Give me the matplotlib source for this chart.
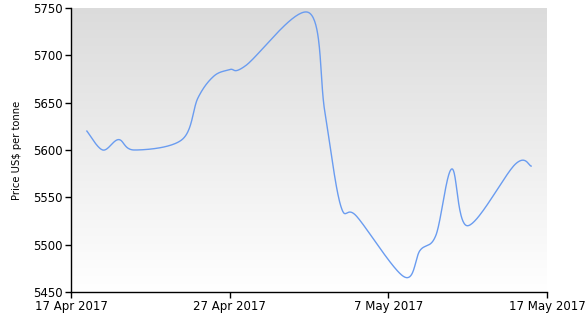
import numpy as np
import matplotlib
matplotlib.use("Agg")
import matplotlib.pyplot as plt
import matplotlib.dates as mdates
import datetime as dt

# daily prices (US$ per tonne)
dates = ["2017-04-18", "2017-04-19", "2017-04-20", "2017-04-21",
         "2017-04-24", "2017-04-25", "2017-04-26", "2017-04-27", "2017-04-28",
         "2017-05-02", "2017-05-03", "2017-05-04", "2017-05-05",
         "2017-05-08", "2017-05-09", "2017-05-10", "2017-05-11", "2017-05-12",
         "2017-05-15", "2017-05-16"]
prices = [5620, 5600, 5611, 5600,
          5611, 5655, 5678, 5685, 5689,
          5745, 5640, 5541, 5530,
          5466, 5494, 5510, 5580, 5520,
          5585, 5583]

yticks = [5450, 5500, 5550, 5600, 5650, 5700, 5750]
xticks = ["2017-04-17", "2017-04-27", "2017-05-07", "2017-05-17"]
xticklabels = ["17 Apr 2017", "27 Apr 2017", "7 May 2017", "17 May 2017"]

x = mdates.date2num([dt.datetime.strptime(d, "%Y-%m-%d") for d in dates])
y = np.array(prices, dtype=float)


def smooth(x, y, n=40):
    # uniform catmull-rom spline in both x and y (point index as parameter)
    px = np.concatenate([[x[0]], x, [x[-1]]])
    py = np.concatenate([[y[0]], y, [y[-1]]])
    mx = (px[2:] - px[:-2]) / 2
    my = (py[2:] - py[:-2]) / 2
    t = np.linspace(0, 1, n, endpoint=False)
    h00 = 2 * t**3 - 3 * t**2 + 1
    h10 = t**3 - 2 * t**2 + t
    h01 = -2 * t**3 + 3 * t**2
    h11 = t**3 - t**2
    xs, ys = [], []
    for i in range(len(x) - 1):
        xs.append(h00 * x[i] + h10 * mx[i] + h01 * x[i + 1] + h11 * mx[i + 1])
        ys.append(h00 * y[i] + h10 * my[i] + h01 * y[i + 1] + h11 * my[i + 1])
    xs.append([x[-1]])
    ys.append([y[-1]])
    return np.concatenate(xs), np.concatenate(ys)


fig = plt.figure(figsize=(5.88, 3.2), dpi=100)
ax = fig.add_axes([71 / 588, 1 - 292 / 320, 476 / 588, 284 / 320])

# grey-to-white background gradient
grad = np.linspace(0.86, 1.0, 256).reshape(256, 1, 1) * np.ones((1, 2, 3))
ax.imshow(grad, extent=[0, 1, 0, 1], transform=ax.transAxes, aspect="auto",
          interpolation="bicubic", zorder=0)

xs, ys = smooth(x, y)
ax.plot(xs, ys, color="#6a9cf0", lw=1.0, zorder=2)

xt = mdates.date2num([dt.datetime.strptime(d, "%Y-%m-%d") for d in xticks])
ax.set_xlim(xt[0], xt[-1])
ax.set_ylim(5450, 5750)
ax.set_xticks(xt)
ax.set_xticklabels(xticklabels)
ax.set_yticks(yticks)
ax.tick_params(labelsize=8.5, length=4, width=1, color="black", pad=2)
for s in ["top", "right"]:
    ax.spines[s].set_visible(False)
for s in ["left", "bottom"]:
    ax.spines[s].set_linewidth(1)
ax.set_ylabel("Price US$ per tonne", fontsize=7.2, labelpad=8)

fig.savefig("out.png", dpi=100)
